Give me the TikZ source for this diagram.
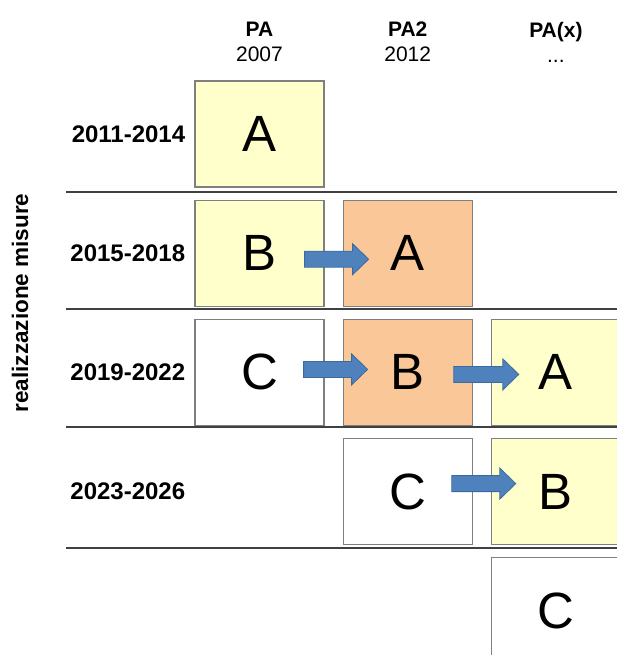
\documentclass[tikz,border=0pt]{standalone}
\usepackage{fontspec}
\setmainfont{Liberation Sans}
\usetikzlibrary{positioning, calc}
\definecolor{boxyellow}{HTML}{FFFFCC}
\definecolor{boxpeach}{HTML}{FAC898}
\definecolor{boxedge}{HTML}{7F7F7F}
\definecolor{arrowblue}{HTML}{4F81BD}
\definecolor{arrowedge}{HTML}{3B6A9E}
\definecolor{rulegray}{HTML}{404040}

\begin{document}
\begin{tikzpicture}[
  x=1pt, y=1pt,
  node distance=12pt and 18pt,
  planbox/.style={rectangle, draw=boxedge, line width=1.2pt, fill=#1, minimum width=129pt, minimum height=106pt, inner sep=0pt, font=\fontsize{51}{51}\selectfont},
  planbox/.default=white,
  header/.style={align=center, anchor=south, inner sep=0pt, font=\fontsize{21}{25}\selectfont},
  rowlabel/.style={anchor=east, inner sep=0pt, font=\fontsize{24}{24}\selectfont\bfseries},
  sepline/.style={draw=rulegray, line width=1.6pt},
  blockarrow/.style={draw=arrowedge, fill=arrowblue, line width=0.8pt, to path={
    let \p1=(\tikztostart), \p2=(\tikztotarget) in
    (\x1,\y1+8pt) -- (\x2-16pt,\y1+8pt) -- (\x2-16pt,\y1+15.5pt) -- (\x2,\y1)
    -- (\x2-16pt,\y1-15.5pt) -- (\x2-16pt,\y1-8pt) -- (\x1,\y1-8pt) -- cycle}}
]
  \useasboundingbox (0,0) rectangle (617,-655);

  % Separator lines between periods
  \foreach \y in {192,309,427,548}
    \draw[sepline] (66,-\y) -- (617,-\y);

  % PA 2007
  \node[planbox=boxyellow] (pa1A) at (259.5,-134) {A};
  \node[planbox=boxyellow, below=of pa1A] (pa1B) {B};
  \node[planbox, below=of pa1B] (pa1C) {C};

  % PA2 2012
  \node[planbox=boxpeach, right=of pa1B] (pa2A) {A};
  \node[planbox=boxpeach, below=of pa2A] (pa2B) {B};
  \node[planbox, below=of pa2B] (pa2C) {C};

  % PA(x)
  \node[planbox=boxyellow, right=of pa2B] (pa3A) {A};
  \node[planbox=boxyellow, below=of pa3A] (pa3B) {B};
  \node[planbox, below=of pa3B] (pa3C) {C};

  % Column headers
  \node[header] (hpa1) at ([yshift=18pt]pa1A.north) {\textbf{PA}\\2007};
  \node[header] (hpa2) at ([yshift=18pt]pa1A.north -| pa2A) {\textbf{PA2}\\2012};
  \node[header] (hpa3) at ([yshift=18pt]pa1A.north -| pa3A) {\textbf{PA(x)}\\...};

  % Periods
  \node[rowlabel] (per1) at ([xshift=-9pt]pa1A.west) {2011-2014};
  \node[rowlabel] (per2) at ([xshift=-9pt]pa1B.west) {2015-2018};
  \node[rowlabel] (per3) at ([xshift=-9pt]pa1C.west) {2019-2022};
  \node[rowlabel] (per4) at ([xshift=-9pt]pa1A.west |- pa2C) {2023-2026};
  \node[rotate=90, inner sep=0pt, font=\fontsize{22.5}{22.5}\selectfont\bfseries] (axis) at (20,-303) {realizzazione misure};

  % Shifts from one plan to the next
  \draw[blockarrow] ([xshift=-20pt,yshift=-6pt]pa1B.east) to ([xshift=26pt,yshift=-6pt]pa2A.west);
  \draw[blockarrow] ([xshift=-21pt,yshift=3pt]pa1C.east) to ([xshift=25pt,yshift=3pt]pa2B.west);
  \draw[blockarrow] ([xshift=-19pt,yshift=-2pt]pa2B.east) to ([xshift=28pt,yshift=-2pt]pa3A.west);
  \draw[blockarrow] ([xshift=-21pt,yshift=8pt]pa2C.east) to ([xshift=25pt,yshift=8pt]pa3B.west);
\end{tikzpicture}
\end{document}
